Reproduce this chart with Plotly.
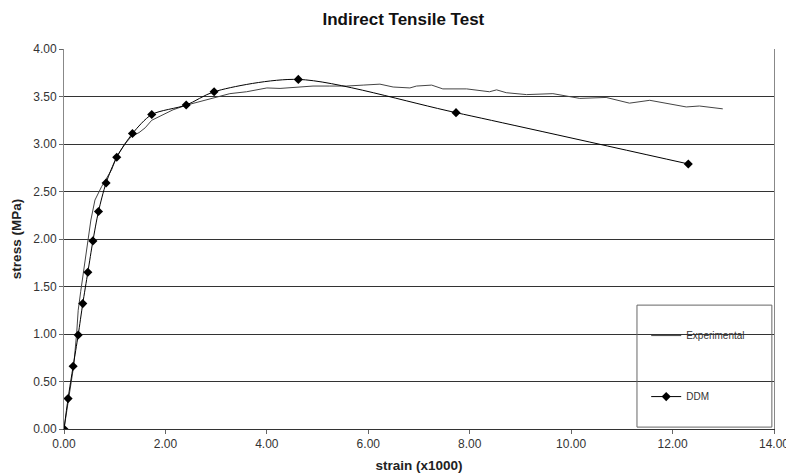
import plotly.graph_objects as go

# Experimental curve (strain x1000, stress MPa)
exp_strain = [0, 0.08, 0.19, 0.25, 0.28, 0.33, 0.37, 0.45, 0.53, 0.61, 0.74, 0.94, 1.04, 1.20, 1.33,
              1.48, 1.60, 1.73, 1.95, 2.15, 2.42, 2.70, 2.94, 3.27, 3.60, 3.93, 4.00, 4.26, 4.60,
              4.91, 5.24, 5.57, 5.90, 6.23, 6.49, 6.82, 6.95, 7.25, 7.47, 7.94, 8.39, 8.53, 8.72,
              9.12, 9.64, 10.17, 10.69, 11.15, 11.55, 11.88, 12.27, 12.53, 12.99]
exp_stress = [0, 0.30, 0.66, 1.01, 1.25, 1.45, 1.60, 1.88, 2.20, 2.41, 2.55, 2.73, 2.87, 3.00, 3.08,
              3.12, 3.17, 3.25, 3.31, 3.36, 3.41, 3.45, 3.49, 3.53, 3.55, 3.58, 3.59, 3.585, 3.60,
              3.61, 3.61, 3.61, 3.62, 3.63, 3.60, 3.59, 3.61, 3.62, 3.58, 3.58, 3.55, 3.57, 3.54,
              3.52, 3.53, 3.48, 3.49, 3.43, 3.46, 3.43, 3.39, 3.40, 3.37]

# DDM model points
ddm_strain = [0, 0.08, 0.18, 0.28, 0.37, 0.47, 0.57, 0.68, 0.83, 1.04, 1.35, 1.73, 2.41, 2.96, 4.62, 7.73, 12.31]
ddm_stress = [0, 0.32, 0.66, 0.99, 1.32, 1.65, 1.98, 2.29, 2.59, 2.86, 3.11, 3.31, 3.41, 3.55, 3.68, 3.33, 2.79]

x_ticks = [0, 2, 4, 6, 8, 10, 12, 14]
y_ticks = [0, 0.5, 1.0, 1.5, 2.0, 2.5, 3.0, 3.5, 4.0]

fig = go.Figure()
fig.add_trace(go.Scatter(x=exp_strain, y=exp_stress, mode="lines", name="Experimental",
                         line=dict(color="#444444", width=1), legendgroup="a"))
fig.add_trace(go.Scatter(x=ddm_strain, y=ddm_stress, mode="lines+markers", name="DDM",
                         line=dict(color="#000000", width=1, shape="spline", smoothing=0.8),
                         marker=dict(symbol="diamond", size=7, color="#000000"), legendgroup="b"))

fig.update_layout(
    width=786, height=466,
    margin=dict(l=56, r=20, t=41, b=45),
    paper_bgcolor="white", plot_bgcolor="white",
    font=dict(family="Liberation Sans, Arial, sans-serif", color="#333333", size=12),
    title=dict(text="<b>Indirect Tensile Test</b>", x=0.503, xanchor="center", y=0.976, yanchor="middle",
               font=dict(size=17, color="#111111")),
    showlegend=True,
    legend=dict(x=0.82, y=0.284, xanchor="left", yanchor="top", bgcolor="rgba(0,0,0,0)",
                borderwidth=0, tracegroupgap=42, traceorder="grouped", itemwidth=30,
                font=dict(size=10, color="#333333")),
    shapes=[dict(type="rect", xref="paper", yref="paper", x0=0.807, x1=0.997, y0=0.005, y1=0.326,
                 line=dict(color="#666666", width=1), fillcolor="rgba(0,0,0,0)", layer="above")],
)
fig.update_xaxes(range=[0, 14], tickvals=x_ticks, tickformat=".2f", showgrid=False, automargin=False,
                 showline=True, linecolor="#333333", linewidth=1, ticks="outside", ticklen=4,
                 tickcolor="#666666", zeroline=False,
                 title=dict(text="<b>strain (x1000)</b>", font=dict(size=13.5, color="#222222"), standoff=10))
fig.update_yaxes(range=[0, 4], tickvals=y_ticks, tickformat=".2f", showgrid=True, automargin=False,
                 gridcolor="#333333", gridwidth=1, showline=True, linecolor="#888888", linewidth=1,
                 mirror=True, ticks="outside", ticklen=4, tickcolor="#666666", zeroline=False,
                 title=dict(text="<b>stress (MPa)</b>", font=dict(size=13.5, color="#222222"), standoff=8))

fig.write_html("out.html")
